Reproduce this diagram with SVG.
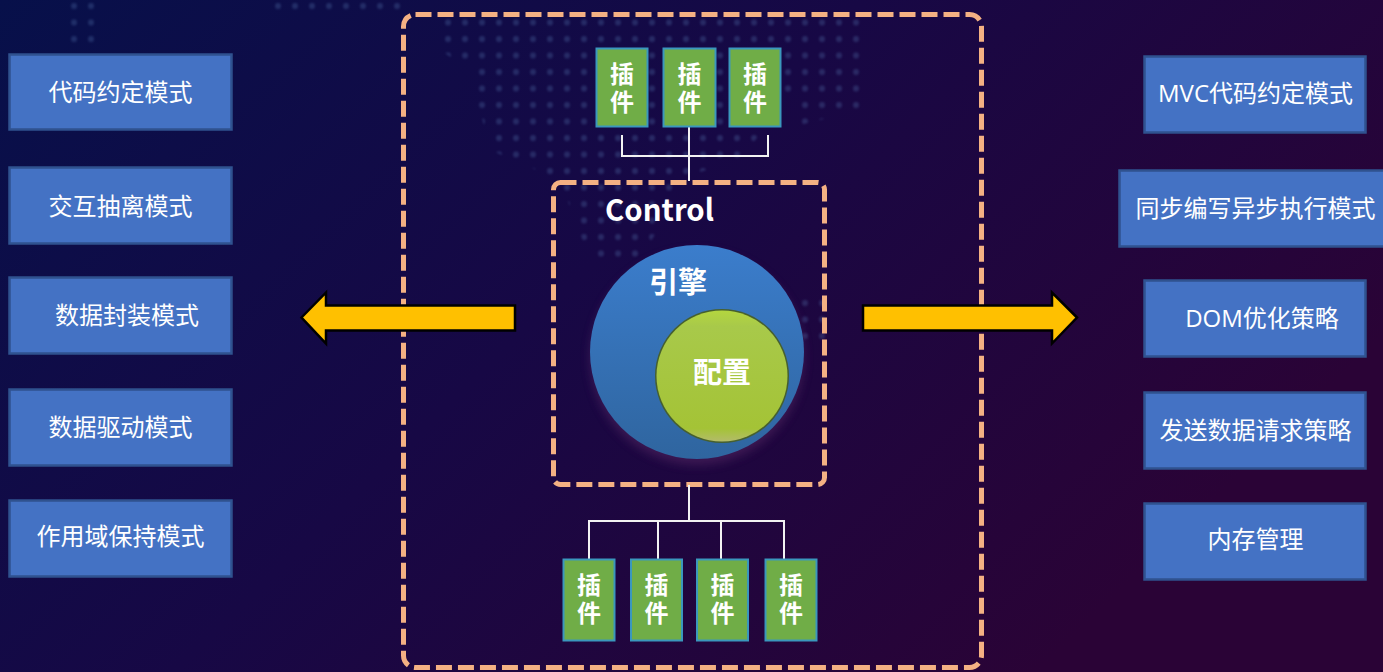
<svg xmlns="http://www.w3.org/2000/svg" width="1383" height="672" viewBox="0 0 1383 672">
<style>
.box{fill:#4472c4;stroke:#2f528f;stroke-width:2.500}
.plug{fill:#70ad47;stroke:#3a97bd;stroke-width:2}
.t{font-family:"Noto Sans CJK SC","Noto Sans",sans-serif;fill:#fff;text-anchor:middle}
.mix{font-family:"Open Sans","Noto Sans CJK SC",sans-serif}
.bt{font-size:24px}
.pt{font-size:24px;font-weight:700;writing-mode:vertical-rl;letter-spacing:4px}
.dash{fill:none;stroke:#f4b183;stroke-width:5;stroke-dasharray:16 6}
.line{fill:none;stroke:#f2f2f2;stroke-width:2}
.arrow{fill:#ffc000;stroke:#000;stroke-width:2.5}
</style>
<defs>
<linearGradient id="bg" x1="0" y1="0" x2="1" y2="0.5">
<stop offset="0" stop-color="#07104a"/><stop offset="0.5" stop-color="#170845"/><stop offset="1" stop-color="#2a0336"/>
</linearGradient>
<linearGradient id="blue" x1="0" y1="0" x2="0" y2="1">
<stop offset="0" stop-color="#3b7dcc"/><stop offset="1" stop-color="#2f659f"/>
</linearGradient>
<linearGradient id="green" x1="0" y1="0" x2="0" y2="1">
<stop offset="0" stop-color="#b4d63f"/><stop offset="0.12" stop-color="#a8c94a"/><stop offset="0.9" stop-color="#a4c336"/><stop offset="1" stop-color="#b3bb6a"/>
</linearGradient>
<pattern id="dots" width="17" height="16.5" patternUnits="userSpaceOnUse">
<circle cx="6" cy="6" r="3" fill="#5577b0"/>
</pattern>
<filter id="soft" x="-10%" y="-10%" width="120%" height="120%"><feGaussianBlur stdDeviation="1"/></filter>
<filter id="glow" x="-20%" y="-20%" width="140%" height="140%"><feGaussianBlur stdDeviation="5"/></filter>
</defs>
<rect id="background" width="1383" height="672" fill="url(#bg)"/>
<g id="map-dots" fill="url(#dots)" filter="url(#soft)" opacity="0.3">
<path d="M440 15H860V110L800 125 790 95 740 160 690 175 640 260H590L560 180 490 150 470 70 440 50Z"/>
<path d="M785 290H830V340H785Z"/>
<path d="M65 0H100V45H65Z"/>
<path d="M270 0H400V12H270Z"/>
</g>
<g id="outer-frame"><rect class="dash" x="403.500" y="14.500" width="578" height="653" rx="12"/></g>
<g id="control-frame">
<rect class="dash" x="553.500" y="182.500" width="271" height="302" rx="7"/>
<text class="t" x="659.500" y="221" font-size="30" font-weight="700" textLength="109" lengthAdjust="spacingAndGlyphs">Control</text>
</g>
<g id="connectors">
<path class="line" d="M622 135V156H768V135M689 127V181"/>
<path class="line" d="M689 485V521M589 559V521H784V559M658 521V559M721 521V559"/>
</g>
<g id="arrow-left"><path class="arrow" d="M301.500 317.500L326 292.500V305.500H515V330.500H326V343.500Z"/></g>
<g id="arrow-right"><path class="arrow" d="M1077 317.500L1052 292.500V305.500H863V330.500H1052V343.500Z"/></g>
<g id="engine">
<circle cx="697" cy="358" r="107" fill="#5a2a66" opacity="0.5" filter="url(#glow)"/>
<circle cx="697" cy="352" r="107" fill="url(#blue)"/>
<text class="t" x="678" y="293" font-size="29" font-weight="700">引擎</text>
</g>
<g id="config">
<circle cx="722" cy="376" r="67" fill="#46602f"/>
<circle cx="722" cy="376" r="65.500" fill="url(#green)"/>
<text class="t" x="722" y="383" font-size="29" font-weight="700">配置</text>
</g>
<g id="plugin-top-1"><rect class="plug" x="596.500" y="48.500" width="51" height="78"/><text class="t pt" x="622" y="90">插件</text></g>
<g id="plugin-top-2"><rect class="plug" x="663.500" y="48.500" width="52" height="78"/><text class="t pt" x="689.500" y="90">插件</text></g>
<g id="plugin-top-3"><rect class="plug" x="729.500" y="48.500" width="51" height="78"/><text class="t pt" x="755" y="90">插件</text></g>
<g id="plugin-bottom-1"><rect class="plug" x="563.500" y="559.500" width="51" height="81"/><text class="t pt" x="589" y="601">插件</text></g>
<g id="plugin-bottom-2"><rect class="plug" x="631" y="559.500" width="51" height="81"/><text class="t pt" x="656.500" y="601">插件</text></g>
<g id="plugin-bottom-3"><rect class="plug" x="697" y="559.500" width="51" height="81"/><text class="t pt" x="722.500" y="601">插件</text></g>
<g id="plugin-bottom-4"><rect class="plug" x="765.500" y="559.500" width="51" height="81"/><text class="t pt" x="791" y="601">插件</text></g>
<g id="left-1"><rect class="box" x="9.500" y="54.500" width="222" height="75"/><text class="t bt" x="120.500" y="101">代码约定模式</text></g>
<g id="left-2"><rect class="box" x="9.500" y="167.500" width="222" height="76"/><text class="t bt" x="120.500" y="215">交互抽离模式</text></g>
<g id="left-3"><rect class="box" x="9.500" y="277.500" width="222" height="76"/><text class="t bt" x="127" y="324">数据封装模式</text></g>
<g id="left-4"><rect class="box" x="9.500" y="389.500" width="222" height="76"/><text class="t bt" x="120.500" y="436">数据驱动模式</text></g>
<g id="left-5"><rect class="box" x="9.500" y="500.500" width="222" height="76"/><text class="t bt" x="120.500" y="545">作用域保持模式</text></g>
<g id="right-1"><rect class="box" x="1144.500" y="56.500" width="221" height="76"/><text class="t bt mix" x="1255.500" y="102">MVC代码约定模式</text></g>
<g id="right-2"><rect class="box" x="1119.500" y="170.500" width="266" height="76"/><text class="t bt" x="1255.500" y="217">同步编写异步执行模式</text></g>
<g id="right-3"><rect class="box" x="1144.500" y="280.500" width="221" height="76"/><text class="t bt mix" x="1262" y="327">DOM优化策略</text></g>
<g id="right-4"><rect class="box" x="1144.500" y="392.500" width="221" height="76"/><text class="t bt" x="1255.500" y="439">发送数据请求策略</text></g>
<g id="right-5"><rect class="box" x="1144.500" y="503.500" width="221" height="76"/><text class="t bt" x="1255.500" y="548">内存管理</text></g>
</svg>
